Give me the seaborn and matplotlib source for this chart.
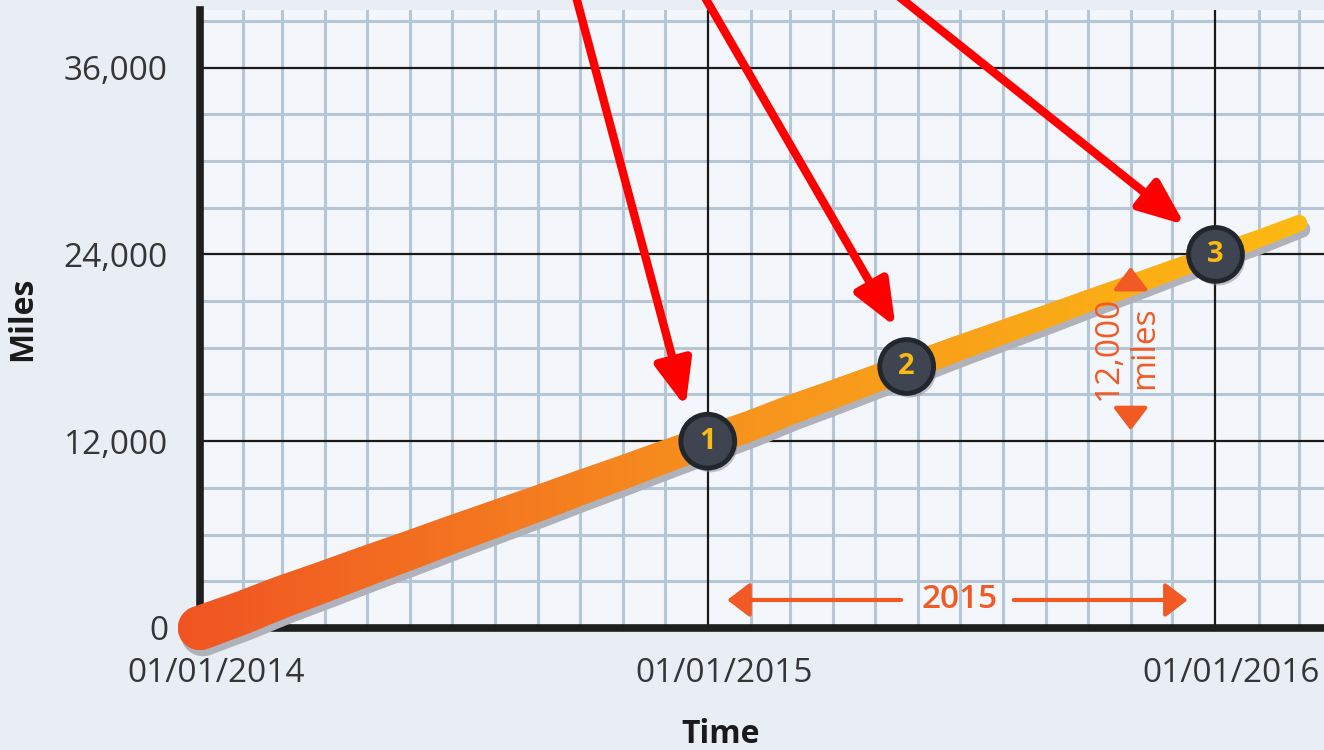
# Mileage over time chart with numbered checkpoints
import numpy as np
import pandas as pd
import seaborn as sns
import matplotlib.pyplot as plt
import matplotlib.dates as mdates
import matplotlib.ticker as mticker
import matplotlib.transforms as mtransforms
import matplotlib.patheffects as pe
from matplotlib.patches import Polygon
from matplotlib.colors import LinearSegmentedColormap

# Route: miles read at each monthly gridline
route_dates = ['2014-01-01', '2014-02-01', '2014-03-01', '2014-04-01', '2014-05-01',
               '2014-06-01', '2014-07-01', '2014-08-01', '2014-09-01', '2014-10-01',
               '2014-11-01', '2014-12-01', '2015-01-01', '2015-02-01', '2015-03-01',
               '2015-04-01', '2015-05-01', '2015-06-01', '2015-07-01', '2015-08-01',
               '2015-09-01', '2015-10-01', '2015-11-01', '2015-12-01', '2016-01-01',
               '2016-02-01', '2016-03-01']
route_miles = [0, 1000, 2000, 3000, 4000, 5000, 6000, 7000, 8000, 9000,
               10000, 11000, 12000, 13000, 14000, 15000, 16000, 17000, 18000, 19000,
               20000, 21000, 22000, 23000, 24000, 25000, 26000]

# Numbered checkpoints
stop_dates = ['2015-01-01', '2015-05-24', '2016-01-01']
stop_miles = [12000, 16800, 24000]
stop_labels = ['1', '2', '3']

y_ticks = [0, 12000, 24000, 36000]
x_major = ['2014-01-01', '2015-01-01', '2016-01-01']

sns.set_theme(style='white')
plt.rcParams['font.family'] = ['Open Sans', 'DejaVu Sans']

fig = plt.figure(figsize=(13.24, 7.5), dpi=100, facecolor='#e9eef5')
ax = fig.add_axes([200 / 1324, 122 / 750, 1124 / 1324, 618 / 750])
ax.set_facecolor('#f3f6fa')

stops = pd.DataFrame({'date': pd.to_datetime(stop_dates), 'miles': stop_miles, 'label': stop_labels})
sns.scatterplot(data=stops, x='date', y='miles', s=1500, color='#3e4550',
                edgecolor='#22262d', linewidth=3.5, zorder=5, ax=ax, legend=False,
                clip_on=False)
ax.collections[-1].set_path_effects([
    pe.SimplePatchShadow(offset=(2, -3), shadow_rgbFace='#8a8c95', alpha=0.5), pe.Normal()])

d = lambda s: mdates.date2num(pd.Timestamp(s))

ax.set_xlim(d('2014-01-01'), d('2016-03-19'))
ax.set_ylim(0, 39700)
ax.set_autoscale_on(False)

# tapered route outline with round ends, built in pixel space
x = mdates.date2num(pd.to_datetime(route_dates))
pix = ax.transData.transform(np.column_stack([x, route_miles]))
half = np.linspace(32, 12, len(pix)) * fig.dpi / 72 / 2
dvec = pix[-1] - pix[0]
dvec = dvec / np.hypot(*dvec)
nrm = np.array([-dvec[1], dvec[0]])
a = np.arctan2(nrm[1], nrm[0])
upper = pix + nrm * half[:, None]
lower = pix - nrm * half[:, None]
t1 = np.linspace(a, a - np.pi, 40)
t2 = np.linspace(a - np.pi, a - 2 * np.pi, 40)
cap_end = pix[-1] + half[-1] * np.column_stack([np.cos(t1), np.sin(t1)])
cap_start = pix[0] + half[0] * np.column_stack([np.cos(t2), np.sin(t2)])
outline = ax.transData.inverted().transform(np.vstack([upper, cap_end, lower[::-1], cap_start]))

shadow_tr = ax.transData + mtransforms.ScaledTranslation(3 / 100, -6 / 100, fig.dpi_scale_trans)
shadow = Polygon(outline, closed=True, facecolor='#b0b2bb', edgecolor='none',
                 transform=shadow_tr, zorder=3.5, clip_on=False)
ax.add_patch(shadow)

clip_poly = Polygon(outline, closed=True, transform=ax.transData)
cmap = LinearSegmentedColormap.from_list('route', ['#f05423', '#f7941d', '#fdba12'])
xmin, ymin = outline.min(axis=0)
xmax, ymax = outline.max(axis=0)
im = ax.imshow(np.linspace(0, 1, 256).reshape(1, -1), cmap=cmap, aspect='auto',
               extent=[xmin, xmax, ymin, ymax], origin='lower', interpolation='bilinear',
               zorder=4)
im.set_clip_path(clip_poly)
im.set_clip_box(fig.bbox)

for dt, m, lab in zip(stop_dates, stop_miles, stop_labels):
    ax.text(d(dt), m, lab, color='#fdb913', fontsize=21, fontweight='bold',
            ha='center', va='center', zorder=6)

# grid
ax.xaxis.set_major_locator(mdates.YearLocator())
ax.xaxis.set_major_formatter(mdates.DateFormatter('%m/%d/%Y'))
ax.xaxis.set_minor_locator(mdates.MonthLocator())
ax.set_yticks(y_ticks)
ax.yaxis.set_major_formatter(mticker.StrMethodFormatter('{x:,.0f}'))
ax.yaxis.set_minor_locator(mticker.MultipleLocator(3000))
ax.grid(which='major', visible=False)
ax.grid(which='minor', color='#b5c6d6', lw=2.2)
for yv in y_ticks[1:]:
    ax.axhline(yv, color='#1a1a1a', lw=1.6, zorder=2)
for xv in x_major[1:]:
    ax.axvline(d(xv), color='#1a1a1a', lw=1.6, zorder=2)

for side in ['top', 'right']:
    ax.spines[side].set_visible(False)
for side in ['left', 'bottom']:
    ax.spines[side].set_color('#1e1e1e')
    ax.spines[side].set_linewidth(5.5)

ax.tick_params(which='both', length=0)
ax.tick_params(axis='y', pad=23, labelsize=24, labelcolor='#353535')
ax.tick_params(axis='x', pad=21, labelsize=24, labelcolor='#353535')
shift = mtransforms.ScaledTranslation(16 / 100, 0, fig.dpi_scale_trans)
for lab in ax.get_xticklabels():
    lab.set_transform(lab.get_transform() + shift)

ax.set_xlabel('Time', fontsize=23, fontweight='bold', color='#1a1a1a')
ax.xaxis.label.set_va('center')
ax.xaxis.set_label_coords(0.4635, -0.173)
ax.set_ylabel('Miles', fontsize=23, fontweight='bold', color='#1a1a1a')
ax.yaxis.label.set_va('center')
ax.yaxis.set_label_coords(-0.1575, 0.5)

# red pointer arrows
red = dict(arrowstyle='-|>,head_length=1.1,head_width=0.45', mutation_scale=25,
           lw=6, color='#ff0000', shrinkA=0, shrinkB=0)
for start, tip in [(('2014-09-28', 40660), ('2014-12-16', 14200)),
                   (('2014-12-29', 40660), ('2015-05-16', 19345)),
                   (('2015-05-17', 40660), ('2015-12-10', 25900))]:
    ax.annotate('', xy=(d(tip[0]), tip[1]), xytext=(d(start[0]), start[1]),
                annotation_clip=False, arrowprops=red, zorder=7)

# orange measurement notes
orange = '#f15a24'
oarrow = dict(arrowstyle='-|>,head_length=0.55,head_width=0.42', mutation_scale=25,
              lw=3, color=orange, shrinkA=0, shrinkB=0)
ax.text(d('2015-07-01'), 1800, '2015', color=orange, fontsize=24, fontweight='semibold',
        ha='center', va='center')
ax.annotate('', xy=(d('2015-01-15'), 1800), xytext=(d('2015-05-20'), 1800), arrowprops=oarrow)
ax.annotate('', xy=(d('2015-12-12'), 1800), xytext=(d('2015-08-09'), 1800), arrowprops=oarrow)

ax.text(d('2015-10-29'), 18000, '12,000\nmiles', rotation=90, color=orange, fontsize=24,
        ha='center', va='center', multialignment='center', linespacing=1.15, zorder=6)
ax.annotate('', xy=(d('2015-11-01'), 23200), xytext=(d('2015-11-01'), 22100),
            arrowprops=oarrow, zorder=6)
ax.annotate('', xy=(d('2015-11-01'), 12700), xytext=(d('2015-11-01'), 13900),
            arrowprops=oarrow, zorder=6)

fig.savefig('out.png', dpi=100, facecolor=fig.get_facecolor())
